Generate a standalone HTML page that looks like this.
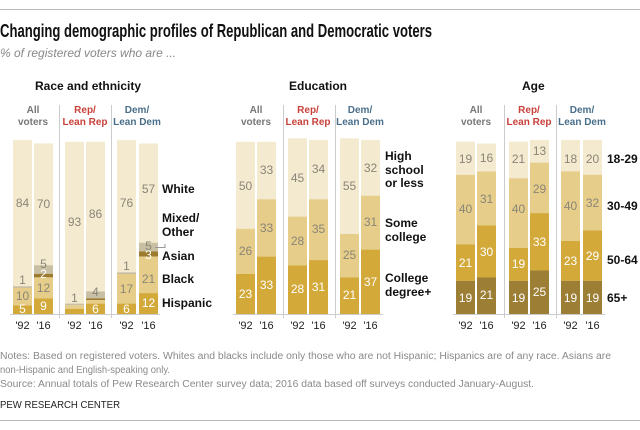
<!DOCTYPE html>
<html><head><meta charset="utf-8"><style>
html,body{margin:0;padding:0;background:#fff}
svg{display:block}
text{font-family:"Liberation Sans",sans-serif}
.n{font-size:12px;fill:#8a8577;text-anchor:middle}
.w{font-size:12px;fill:#fff;text-anchor:middle}
.yr{font-size:11px;fill:#222;text-anchor:middle}
.lab{font-family:"Liberation Sans Narrow","Liberation Sans",sans-serif;font-size:12px;font-weight:bold;fill:#111}
.hd{font-family:"Liberation Sans Narrow","Liberation Sans",sans-serif;font-size:10px;font-weight:bold;text-anchor:middle}
.sec{font-family:"Liberation Sans Narrow","Liberation Sans",sans-serif;font-size:12px;font-weight:bold;fill:#111}
.note{font-size:10px;fill:#8a8a8a}
</style></head><body>
<svg width="640" height="430" viewBox="0 0 640 430">
<line x1="0" y1="9.5" x2="640" y2="9.5" stroke="#bbb"/>
<line x1="0" y1="420.5" x2="640" y2="420.5" stroke="#bbb"/>
<text x="0" y="37" font-family="Liberation Sans Narrow, Liberation Sans, sans-serif" font-size="18" font-weight="bold" fill="#111" textLength="432" lengthAdjust="spacingAndGlyphs">Changing demographic profiles of Republican and Democratic voters</text>
<text x="0" y="57" font-family="Liberation Serif, serif" font-style="italic" font-size="12" fill="#888">% of registered voters who are ...</text>
<text class="sec" x="35" y="90">Race and ethnicity</text>
<text class="sec" x="289" y="90">Education</text>
<text class="sec" x="522" y="90">Age</text>

<g stroke="#ccc">
<line x1="59.5" y1="105" x2="59.5" y2="318"/><line x1="111.5" y1="105" x2="111.5" y2="318"/>
<line x1="283.5" y1="105" x2="283.5" y2="318"/><line x1="335.5" y1="105" x2="335.5" y2="318"/>
<line x1="504.5" y1="105" x2="504.5" y2="318"/><line x1="556.5" y1="105" x2="556.5" y2="318"/>
</g>
<g stroke="#ccc"><line x1="10" y1="314.5" x2="160" y2="314.5"/><line x1="233" y1="314.5" x2="383" y2="314.5"/><line x1="453" y1="314.5" x2="605" y2="314.5"/></g>

<g class="hd">
<text x="33" y="113" fill="#777">All</text><text x="33" y="125" fill="#777">voters</text>
<text x="85" y="113" fill="#c9413a">Rep/</text><text x="85" y="125" fill="#c9413a">Lean Rep</text>
<text x="137" y="113" fill="#4a6f8a">Dem/</text><text x="137" y="125" fill="#4a6f8a">Lean Dem</text>
<text x="256" y="113" fill="#777">All</text><text x="256" y="125" fill="#777">voters</text>
<text x="308" y="113" fill="#c9413a">Rep/</text><text x="308" y="125" fill="#c9413a">Lean Rep</text>
<text x="360" y="113" fill="#4a6f8a">Dem/</text><text x="360" y="125" fill="#4a6f8a">Lean Dem</text>
<text x="476" y="113" fill="#777">All</text><text x="476" y="125" fill="#777">voters</text>
<text x="529" y="113" fill="#c9413a">Rep/</text><text x="529" y="125" fill="#c9413a">Lean Rep</text>
<text x="582" y="113" fill="#4a6f8a">Dem/</text><text x="582" y="125" fill="#4a6f8a">Lean Dem</text>
</g>

<g>
<rect x="13" y="140" width="19" height="146.2" fill="#f4ead0"/>
<rect x="13" y="286.2" width="19" height="1.8" fill="#c9bfa2"/>
<rect x="13" y="287.9" width="19" height="17.4" fill="#e6cd8a"/>
<rect x="13" y="305.3" width="19" height="8.7" fill="#d3a93a"/>
<rect x="34" y="143.4" width="19" height="121.8" fill="#f4ead0"/>
<rect x="34" y="265.2" width="19" height="8.7" fill="#c9bfa2"/>
<rect x="34" y="273.9" width="19" height="3.5" fill="#9c7a2e"/>
<rect x="34" y="277.4" width="19" height="20.9" fill="#e6cd8a"/>
<rect x="34" y="298.3" width="19" height="15.7" fill="#d3a93a"/>
<rect x="65" y="141.8" width="19" height="161.8" fill="#f4ead0"/>
<rect x="65" y="303.6" width="19" height="1.7" fill="#c9bfa2"/>
<rect x="65" y="305.3" width="19" height="3.5" fill="#e6cd8a"/>
<rect x="65" y="308.8" width="19" height="5.2" fill="#d3a93a"/>
<rect x="86" y="141.8" width="19" height="149.6" fill="#f4ead0"/>
<rect x="86" y="291.4" width="19" height="7" fill="#c9bfa2"/>
<rect x="86" y="298.4" width="19" height="1.7" fill="#9c7a2e"/>
<rect x="86" y="300.1" width="19" height="3.5" fill="#e6cd8a"/>
<rect x="86" y="303.6" width="19" height="10.4" fill="#d3a93a"/>
<rect x="117" y="140.1" width="19" height="132.2" fill="#f4ead0"/>
<rect x="117" y="272.3" width="19" height="1.7" fill="#c9bfa2"/>
<rect x="117" y="274" width="19" height="29.6" fill="#e6cd8a"/>
<rect x="117" y="303.6" width="19" height="10.4" fill="#d3a93a"/>
<rect x="139" y="143.5" width="19" height="99.2" fill="#f4ead0"/>
<rect x="139" y="242.7" width="19" height="8.7" fill="#c9bfa2"/>
<rect x="139" y="251.4" width="19" height="5.2" fill="#9c7a2e"/>
<rect x="139" y="256.6" width="19" height="36.5" fill="#e6cd8a"/>
<rect x="139" y="293.1" width="19" height="20.9" fill="#d3a93a"/>
</g>
<text class="n" x="22.5" y="207">84</text><text class="n" x="22.5" y="284">1</text><text class="n" x="22.5" y="300">10</text><text class="w" x="22.5" y="313">5</text>
<text class="n" x="43.5" y="208">70</text><text class="n" x="43.5" y="268">5</text><text class="w" x="43.5" y="278">2</text><text class="n" x="43.5" y="292">12</text><text class="w" x="43.5" y="310">9</text>
<text class="n" x="74.5" y="226">93</text><text class="n" x="74.5" y="302">1</text>
<text class="n" x="95.5" y="218">86</text><text class="n" x="95.5" y="296">4</text><text class="w" x="95.5" y="313">6</text>
<text class="n" x="126.5" y="207">76</text><text class="n" x="126.5" y="270">1</text><text class="n" x="126.5" y="293">17</text><text class="w" x="126.5" y="313">6</text>
<text class="n" x="148.5" y="193">57</text><text class="n" x="148.5" y="250">5</text><text class="w" x="148.5" y="259">3</text><text class="n" x="148.5" y="283">21</text><text class="w" x="148.5" y="307">12</text>
<path d="M155 247.5 H165 V244" stroke="#999" fill="none"/>
<text class="lab" x="162" y="193">White</text>
<text class="lab" x="162" y="222">Mixed/</text><text class="lab" x="162" y="236">Other</text>
<text class="lab" x="162" y="260">Asian</text>
<text class="lab" x="162" y="283">Black</text>
<text class="lab" x="162" y="307">Hispanic</text>

<rect x="236" y="141.8" width="19" height="87" fill="#f4ead0"/><rect x="236" y="228.8" width="19" height="45.2" fill="#e6cd8a"/><rect x="236" y="274" width="19" height="40" fill="#d3a93a"/>
<rect x="257" y="141.8" width="19" height="57.4" fill="#f4ead0"/><rect x="257" y="199.2" width="19" height="57.4" fill="#e6cd8a"/><rect x="257" y="256.6" width="19" height="57.4" fill="#d3a93a"/>
<rect x="288" y="138.3" width="19" height="78.3" fill="#f4ead0"/><rect x="288" y="216.6" width="19" height="48.7" fill="#e6cd8a"/><rect x="288" y="265.3" width="19" height="48.7" fill="#d3a93a"/>
<rect x="309" y="140" width="19" height="59.2" fill="#f4ead0"/><rect x="309" y="199.2" width="19" height="60.9" fill="#e6cd8a"/><rect x="309" y="260.1" width="19" height="53.9" fill="#d3a93a"/>
<rect x="340" y="138.3" width="19" height="95.7" fill="#f4ead0"/><rect x="340" y="234" width="19" height="43.5" fill="#e6cd8a"/><rect x="340" y="277.5" width="19" height="36.5" fill="#d3a93a"/>
<rect x="361" y="140" width="19" height="55.7" fill="#f4ead0"/><rect x="361" y="195.7" width="19" height="53.9" fill="#e6cd8a"/><rect x="361" y="249.6" width="19" height="64.4" fill="#d3a93a"/>
<text class="n" x="245.5" y="190">50</text><text class="n" x="245.5" y="255">26</text><text class="w" x="245.5" y="298">23</text>
<text class="n" x="266.5" y="174">33</text><text class="n" x="266.5" y="232">33</text><text class="w" x="266.5" y="289">33</text>
<text class="n" x="297.5" y="182">45</text><text class="n" x="297.5" y="245">28</text><text class="w" x="297.5" y="293">28</text>
<text class="n" x="318.5" y="173">34</text><text class="n" x="318.5" y="233">35</text><text class="w" x="318.5" y="291">31</text>
<text class="n" x="349.5" y="190">55</text><text class="n" x="349.5" y="259">25</text><text class="w" x="349.5" y="299">21</text>
<text class="n" x="370.5" y="172">32</text><text class="n" x="370.5" y="226">31</text><text class="w" x="370.5" y="286">37</text>
<text class="lab" x="385" y="160">High</text><text class="lab" x="385" y="174">school</text><text class="lab" x="385" y="187">or less</text>
<text class="lab" x="385" y="227">Some</text><text class="lab" x="385" y="241">college</text>
<text class="lab" x="385" y="282">College</text><text class="lab" x="385" y="296">degree+</text>

<rect x="456" y="141.7" width="19" height="33.1" fill="#f4ead0"/><rect x="456" y="174.8" width="19" height="69.6" fill="#e6cd8a"/><rect x="456" y="244.4" width="19" height="36.5" fill="#d3a93a"/><rect x="456" y="280.9" width="19" height="33.1" fill="#9c7e35"/>
<rect x="477" y="143.6" width="19" height="27.8" fill="#f4ead0"/><rect x="477" y="171.4" width="19" height="53.9" fill="#e6cd8a"/><rect x="477" y="225.3" width="19" height="52.2" fill="#d3a93a"/><rect x="477" y="277.5" width="19" height="36.5" fill="#9c7e35"/>
<rect x="509" y="141.7" width="19" height="36.5" fill="#f4ead0"/><rect x="509" y="178.2" width="19" height="69.6" fill="#e6cd8a"/><rect x="509" y="247.8" width="19" height="33.1" fill="#d3a93a"/><rect x="509" y="280.9" width="19" height="33.1" fill="#9c7e35"/>
<rect x="530" y="140" width="19" height="22.6" fill="#f4ead0"/><rect x="530" y="162.6" width="19" height="50.5" fill="#e6cd8a"/><rect x="530" y="213.1" width="19" height="57.4" fill="#d3a93a"/><rect x="530" y="270.5" width="19" height="43.5" fill="#9c7e35"/>
<rect x="561" y="140" width="19" height="31.3" fill="#f4ead0"/><rect x="561" y="171.3" width="19" height="69.6" fill="#e6cd8a"/><rect x="561" y="240.9" width="19" height="40" fill="#d3a93a"/><rect x="561" y="280.9" width="19" height="33.1" fill="#9c7e35"/>
<rect x="583" y="139.9" width="19" height="34.8" fill="#f4ead0"/><rect x="583" y="174.7" width="19" height="55.7" fill="#e6cd8a"/><rect x="583" y="230.4" width="19" height="50.5" fill="#d3a93a"/><rect x="583" y="280.9" width="19" height="33.1" fill="#9c7e35"/>
<text class="n" x="465.5" y="163">19</text><text class="n" x="465.5" y="213">40</text><text class="w" x="465.5" y="267">21</text><text class="w" x="465.5" y="302">19</text>
<text class="n" x="486.5" y="162">16</text><text class="n" x="486.5" y="203">31</text><text class="w" x="486.5" y="256">30</text><text class="w" x="486.5" y="299">21</text>
<text class="n" x="518.5" y="163">21</text><text class="n" x="518.5" y="213">40</text><text class="w" x="518.5" y="268">19</text><text class="w" x="518.5" y="302">19</text>
<text class="n" x="539.5" y="155">13</text><text class="n" x="539.5" y="193">29</text><text class="w" x="539.5" y="246">33</text><text class="w" x="539.5" y="296">25</text>
<text class="n" x="570.5" y="163">18</text><text class="n" x="570.5" y="210">40</text><text class="w" x="570.5" y="265">23</text><text class="w" x="570.5" y="302">19</text>
<text class="n" x="592.5" y="163">20</text><text class="n" x="592.5" y="207">32</text><text class="w" x="592.5" y="260">29</text><text class="w" x="592.5" y="302">19</text>
<text class="lab" x="607" y="163">18-29</text><text class="lab" x="607" y="210">30-49</text><text class="lab" x="607" y="264">50-64</text><text class="lab" x="607" y="302">65+</text>

<g class="yr">
<text x="22.5" y="329">'92</text><text x="43.5" y="329">'16</text><text x="74.5" y="329">'92</text><text x="95.5" y="329">'16</text><text x="126.5" y="329">'92</text><text x="148.5" y="329">'16</text>
<text x="245.5" y="329">'92</text><text x="266.5" y="329">'16</text><text x="297.5" y="329">'92</text><text x="318.5" y="329">'16</text><text x="349.5" y="329">'92</text><text x="370.5" y="329">'16</text>
<text x="465.5" y="329">'92</text><text x="486.5" y="329">'16</text><text x="518.5" y="329">'92</text><text x="539.5" y="329">'16</text><text x="570.5" y="329">'92</text><text x="592.5" y="329">'16</text>
</g>

<text class="note" x="0" y="359" textLength="611" lengthAdjust="spacingAndGlyphs">Notes: Based on registered voters. Whites and blacks include only those who are not Hispanic; Hispanics are of any race. Asians are</text>
<text class="note" x="0" y="373" textLength="170" lengthAdjust="spacingAndGlyphs">non-Hispanic and English-speaking only.</text>
<text class="note" x="0" y="387" textLength="534" lengthAdjust="spacingAndGlyphs">Source: Annual totals of Pew Research Center survey data; 2016 data based off surveys conducted January-August.</text>
<text x="0" y="408" font-size="10" fill="#222" textLength="120" lengthAdjust="spacingAndGlyphs">PEW RESEARCH CENTER</text>
</svg>
</body></html>
